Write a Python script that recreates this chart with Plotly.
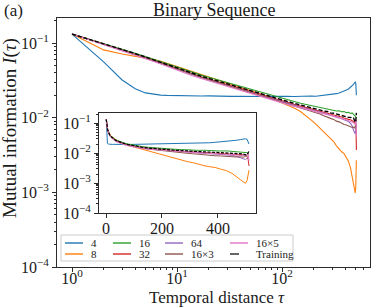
import plotly.graph_objects as go

# ---------------- data ----------------
tau = [1, 2, 3, 4, 5, 6, 7, 8, 10, 12, 14, 17, 20, 24, 28, 33, 40, 48, 57, 68, 80, 95,
       110, 130, 150, 170, 190, 210, 230, 250, 270, 290, 310, 330, 350, 370, 390, 410,
       430, 450, 465, 480, 490, 498, 504, 508, 511]

mi_4 = [0.132, 0.056, 0.032, 0.0245, 0.0215, 0.0205, 0.0201, 0.0199, 0.0197, 0.0198, 0.0196,
        0.0195, 0.0196, 0.0194, 0.0195, 0.0193, 0.0194, 0.0192, 0.0194, 0.0192, 0.0193, 0.0191,
        0.0193, 0.0192, 0.0194, 0.0193, 0.0195, 0.0194, 0.0197, 0.0198, 0.0201, 0.0203, 0.0206,
        0.0210, 0.0215, 0.0220, 0.0228, 0.0235, 0.0243, 0.0255, 0.0266, 0.0280, 0.0292, 0.0300,
        0.0288, 0.0245, 0.0200]
mi_8 = [0.132, 0.081, 0.0715, 0.0670, 0.0635, 0.0600, 0.0570, 0.0540, 0.0485, 0.0445, 0.0415,
        0.0383, 0.0357, 0.0330, 0.0308, 0.0285, 0.0260, 0.0238, 0.0218, 0.0198, 0.0181, 0.0164,
        0.0150, 0.0135, 0.0121, 0.0106, 0.0093, 0.0082, 0.0072, 0.0065, 0.0058, 0.0052, 0.0048,
        0.0042, 0.0038, 0.0035, 0.0033, 0.0029, 0.0026, 0.0021, 0.0017, 0.0013, 0.0011, 0.00098,
        0.0012, 0.0018, 0.0027]
mi_16 = [0.132, 0.0995, 0.0830, 0.0733, 0.0660, 0.0606, 0.0563, 0.0527, 0.0468, 0.0431, 0.0401,
         0.0372, 0.0349, 0.0324, 0.0304, 0.0285, 0.0263, 0.0244, 0.0227, 0.0212, 0.0199, 0.0186,
         0.0175, 0.0164, 0.0156, 0.0150, 0.0145, 0.0140, 0.0137, 0.0133, 0.0131, 0.0127, 0.0126,
         0.0123, 0.0124, 0.0120, 0.0121, 0.0117, 0.0118, 0.0114, 0.0116, 0.0112, 0.0110, 0.0105,
         0.0103, 0.0100, 0.0098]
mi_32 = [0.132, 0.0975, 0.0810, 0.0713, 0.0641, 0.0588, 0.0545, 0.0509, 0.0451, 0.0413, 0.0383,
         0.0354, 0.0331, 0.0306, 0.0287, 0.0268, 0.0247, 0.0229, 0.0213, 0.0198, 0.0185, 0.0172,
         0.0162, 0.0151, 0.0143, 0.0137, 0.0131, 0.0127, 0.0122, 0.0119, 0.0115, 0.0112, 0.0109,
         0.0107, 0.0104, 0.0102, 0.0099, 0.0098, 0.0095, 0.0094, 0.0091, 0.0090, 0.0087, 0.0083,
         0.0078, 0.0060, 0.0037]
mi_64 = [0.132, 0.0965, 0.0798, 0.0700, 0.0628, 0.0575, 0.0532, 0.0497, 0.0440, 0.0402, 0.0373,
         0.0344, 0.0321, 0.0297, 0.0278, 0.0259, 0.0239, 0.0222, 0.0206, 0.0192, 0.0179, 0.0167,
         0.0157, 0.0147, 0.0139, 0.0133, 0.0128, 0.0123, 0.0119, 0.0115, 0.0112, 0.0108, 0.0106,
         0.0103, 0.0100, 0.0097, 0.0095, 0.0092, 0.0089, 0.0084, 0.0078, 0.0068, 0.0064, 0.0061,
         0.0066, 0.0075, 0.0081]
mi_16x3 = [0.132, 0.0970, 0.0804, 0.0705, 0.0634, 0.0580, 0.0537, 0.0502, 0.0444, 0.0406, 0.0377,
           0.0348, 0.0325, 0.0300, 0.0281, 0.0262, 0.0242, 0.0224, 0.0208, 0.0193, 0.0180, 0.0167,
           0.0156, 0.0145, 0.0136, 0.0129, 0.0122, 0.0116, 0.0112, 0.0106, 0.0103, 0.0098, 0.0095,
           0.0090, 0.0088, 0.0084, 0.0081, 0.0080, 0.0077, 0.0076, 0.0074, 0.0075, 0.0073, 0.0076,
           0.0082, 0.0090, 0.0094]
mi_16x5 = [0.132, 0.0960, 0.0792, 0.0694, 0.0622, 0.0568, 0.0525, 0.0489, 0.0432, 0.0394, 0.0365,
           0.0336, 0.0313, 0.0289, 0.0270, 0.0251, 0.0232, 0.0215, 0.0200, 0.0186, 0.0174, 0.0162,
           0.0152, 0.0143, 0.0136, 0.0131, 0.0126, 0.0121, 0.0117, 0.0114, 0.0110, 0.0107, 0.0105,
           0.0101, 0.0100, 0.0097, 0.0096, 0.0093, 0.0092, 0.0089, 0.0088, 0.0086, 0.0084, 0.0082,
           0.0090, 0.0094, 0.0055]
mi_train = [0.132, 0.0989, 0.0822, 0.0724, 0.0650, 0.0596, 0.0552, 0.0516, 0.0457, 0.0419, 0.0389,
            0.0360, 0.0337, 0.0312, 0.0293, 0.0274, 0.0253, 0.0235, 0.0219, 0.0204, 0.0191, 0.0178,
            0.0167, 0.0156, 0.0148, 0.0141, 0.0137, 0.0131, 0.0128, 0.0123, 0.0121, 0.0116, 0.0115,
            0.0112, 0.0110, 0.0108, 0.0105, 0.0104, 0.0101, 0.0101, 0.0098, 0.0099, 0.0094, 0.0087,
            0.0089, 0.0102, 0.0116]

series_names = ["4", "8", "16", "32", "64", "16×3", "16×5", "Training"]
series_values = [mi_4, mi_8, mi_16, mi_32, mi_64, mi_16x3, mi_16x5, mi_train]
series_colors = ["#1f77b4", "#ff7f0e", "#2ca02c", "#d62728", "#9467bd", "#8c564b", "#e377c2", "#000000"]

main_xticks = [1, 10, 100]
main_xticktext = ["10<sup>0</sup>", "10<sup>1</sup>", "10<sup>2</sup>"]
yticks = [1e-4, 1e-3, 1e-2, 1e-1]
yticktext = ["10<sup>−4</sup>", "10<sup>−3</sup>", "10<sup>−2</sup>", "10<sup>−1</sup>"]
inset_xticks = [0, 200, 400]
minor_digits = [2, 3, 4, 5, 6, 7, 8, 9]
x_minor = [d * 10 ** e for e in (0, 1, 2) for d in minor_digits]
y_minor = [d * 10.0 ** e for e in (-4, -3, -2, -1) for d in minor_digits]

# ---------------- layout geometry (pixels) ----------------
W, H = 374, 308
L, R, T, B = 57, 4, 18, 41
PW, PH = W - L - R, H - T - B
FONT = "Liberation Serif"
AX = "#2b2b2b"
TXT = "#1a1a1a"


def px(x):
    return (x - L) / PW


def py(y):
    return (H - B - y) / PH


fig = go.Figure()

for name, vals, col in zip(series_names, series_values, series_colors):
    train = name == "Training"
    fig.add_trace(go.Scatter(x=tau, y=vals, mode="lines", name=name, showlegend=False,
                             line=dict(color=col, width=1.4 if train else 1.1,
                                       dash="4px,2px" if train else "solid"),
                             xaxis="x", yaxis="y"))
for name, vals, col in zip(series_names, series_values, series_colors):
    train = name == "Training"
    fig.add_trace(go.Scatter(x=tau, y=vals, mode="lines", name=name, showlegend=False,
                             line=dict(color=col, width=1.2 if train else 1.0,
                                       dash="3px,1.5px" if train else "solid"),
                             xaxis="x2", yaxis="y2"))

common = dict(showline=True, linecolor=AX, linewidth=1, mirror=True, ticks="outside",
              tickcolor=AX, tickwidth=1, showgrid=False, zeroline=False,
              tickfont=dict(family=FONT, size=16, color=TXT))
minor_style = dict(ticks="outside", ticklen=2, tickcolor=AX, tickwidth=0.8, showgrid=False)

fig.update_layout(
    width=W, height=H,
    margin=dict(l=L, r=R, t=T, b=B),
    paper_bgcolor="white", plot_bgcolor="white",
    showlegend=False,
    font=dict(family=FONT, size=16, color=TXT),
    xaxis=dict(type="log", range=[-0.143, 2.838], domain=[0, 1], anchor="y",
               tickvals=main_xticks, ticktext=main_xticktext, ticklen=4,
               ticklabelstandoff=-7,
               minor=dict(tickvals=x_minor, **minor_style),
               automargin=False, **common),
    yaxis=dict(type="log", range=[-4, -0.664], domain=[0, 1], anchor="x",
               tickvals=yticks, ticktext=yticktext, ticklen=4,
               minor=dict(tickvals=y_minor, **minor_style),
               automargin=False, **common),
    xaxis2=dict(range=[-25, 536], domain=[px(99), px(256)], anchor="y2",
                tickvals=inset_xticks, ticklen=4, ticklabelstandoff=-3,
                automargin=False, **common),
    yaxis2=dict(type="log", range=[-4, -0.664], domain=[py(213), py(113)], anchor="x2",
                tickvals=yticks, ticktext=yticktext, ticklen=4,
                minor=dict(tickvals=y_minor, **minor_style),
                automargin=False, **common),
)

# title, panel label and axis titles
fig.add_annotation(text="Binary Sequence", xref="paper", yref="paper", x=px(214), y=py(10),
                   showarrow=False, xanchor="center", yanchor="middle",
                   font=dict(family=FONT, size=18, color=TXT))
fig.add_annotation(text="(a)", xref="paper", yref="paper", x=px(2), y=py(10),
                   showarrow=False, xanchor="left", yanchor="middle",
                   font=dict(family=FONT, size=17, color=TXT))
fig.add_annotation(text="Temporal distance <i>τ</i>", xref="paper", yref="paper",
                   x=px(217), y=py(297), showarrow=False, xanchor="center", yanchor="middle",
                   font=dict(family=FONT, size=17, color=TXT))
fig.add_annotation(text="Mutual information <i>I</i>(<i>τ</i>)", xref="paper", yref="paper",
                   x=px(10), y=py(128), showarrow=False, xanchor="center", yanchor="middle",
                   textangle=-90, font=dict(family=FONT, size=19, color=TXT))

# legend (drawn manually to mimic a 4-column compact legend)
fig.add_shape(type="rect", xref="paper", yref="paper", x0=px(61), x1=px(293), y0=py(261), y1=py(235),
              line=dict(color="#cccccc", width=1), fillcolor="rgba(255,255,255,0.85)", layer="above")
col_x = [65, 113, 165, 230]
row_y = [243, 254]
legend_pos = {"4": (0, 0), "8": (0, 1), "16": (1, 0), "32": (1, 1),
              "64": (2, 0), "16×3": (2, 1), "16×5": (3, 0), "Training": (3, 1)}
for name, col in zip(series_names, series_colors):
    c, r = legend_pos[name]
    x0 = col_x[c]
    y0 = row_y[r]
    train = name == "Training"
    fig.add_shape(type="line", xref="paper", yref="paper", x0=px(x0), x1=px(x0 + 18),
                  y0=py(y0), y1=py(y0), layer="above",
                  line=dict(color=col, width=1.5 if train else 2, dash="dash" if train else "solid"),
                  opacity=0.8 if train else 0.7)
    fig.add_annotation(text=name, xref="paper", yref="paper", x=px(x0 + 24), y=py(y0),
                       showarrow=False, xanchor="left", yanchor="middle",
                       font=dict(family=FONT, size=11, color=TXT))

fig.write_html("out.html", config={"displayModeBar": False},
               post_script="document.body.style.margin='0';")
